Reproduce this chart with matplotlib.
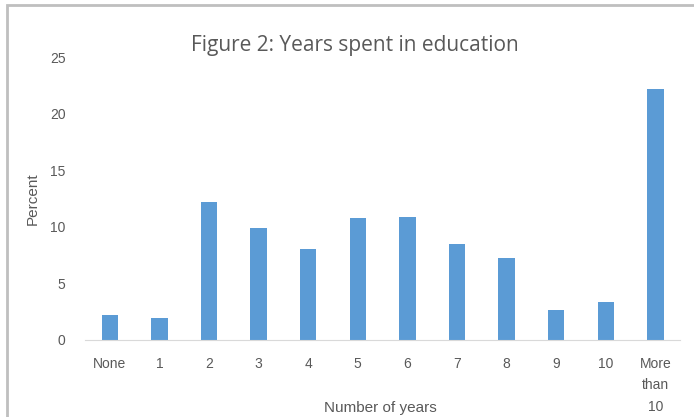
import numpy as np
import matplotlib.pyplot as plt
from matplotlib.patches import Rectangle

categories = ["None", "1", "2", "3", "4", "5", "6", "7", "8", "9", "10", "More\nthan\n10"]
percent = [2.2, 1.9, 12.2, 9.9, 8.0, 10.8, 10.9, 8.5, 7.2, 2.65, 3.35, 22.2]

fig = plt.figure(figsize=(6.94, 4.17), dpi=100)
ax = fig.add_axes([0.1225, 0.1847, 0.8575, 0.6786])

x = np.arange(len(categories))
ax.bar(x, percent, width=0.33, color="#5B9BD5")

ax.set_xlim(-0.5, len(categories) - 0.5)
ax.set_ylim(0, 25)
ax.set_yticks([0, 5, 10, 15, 20, 25])
ax.set_xticks(x)
ax.set_xticklabels(categories, fontsize=10, color="#595959", family="Liberation Sans",
                   linespacing=1.7, va="top")
ax.tick_params(axis="both", length=0, labelsize=10, labelcolor="#595959")
ax.tick_params(axis="x", pad=12)
ax.tick_params(axis="y", pad=14)
for lab in ax.get_yticklabels():
    lab.set_family("Liberation Sans")

for side in ["top", "right", "left"]:
    ax.spines[side].set_visible(False)
ax.spines["bottom"].set_color("#d9d9d9")

ax.set_ylabel("Percent", fontsize=11, color="#595959", family="Liberation Sans", labelpad=7)
fig.text(0.548, 0.022, "Number of years", fontsize=11, color="#595959",
         family="Liberation Sans", ha="center", va="center")
fig.text(0.512, 0.89, "Figure 2: Years spent in education", fontsize=15,
         color="#595959", family="Open Sans", ha="center", va="center")

# chart border (partly cut off on the right and bottom)
fig.patches.append(Rectangle((7 / 694, -0.1), 1.2, 1.1 - 5 / 417, transform=fig.transFigure,
                             fill=False, edgecolor="#bfbfbf", linewidth=2))

fig.savefig("out.png", dpi=100)
